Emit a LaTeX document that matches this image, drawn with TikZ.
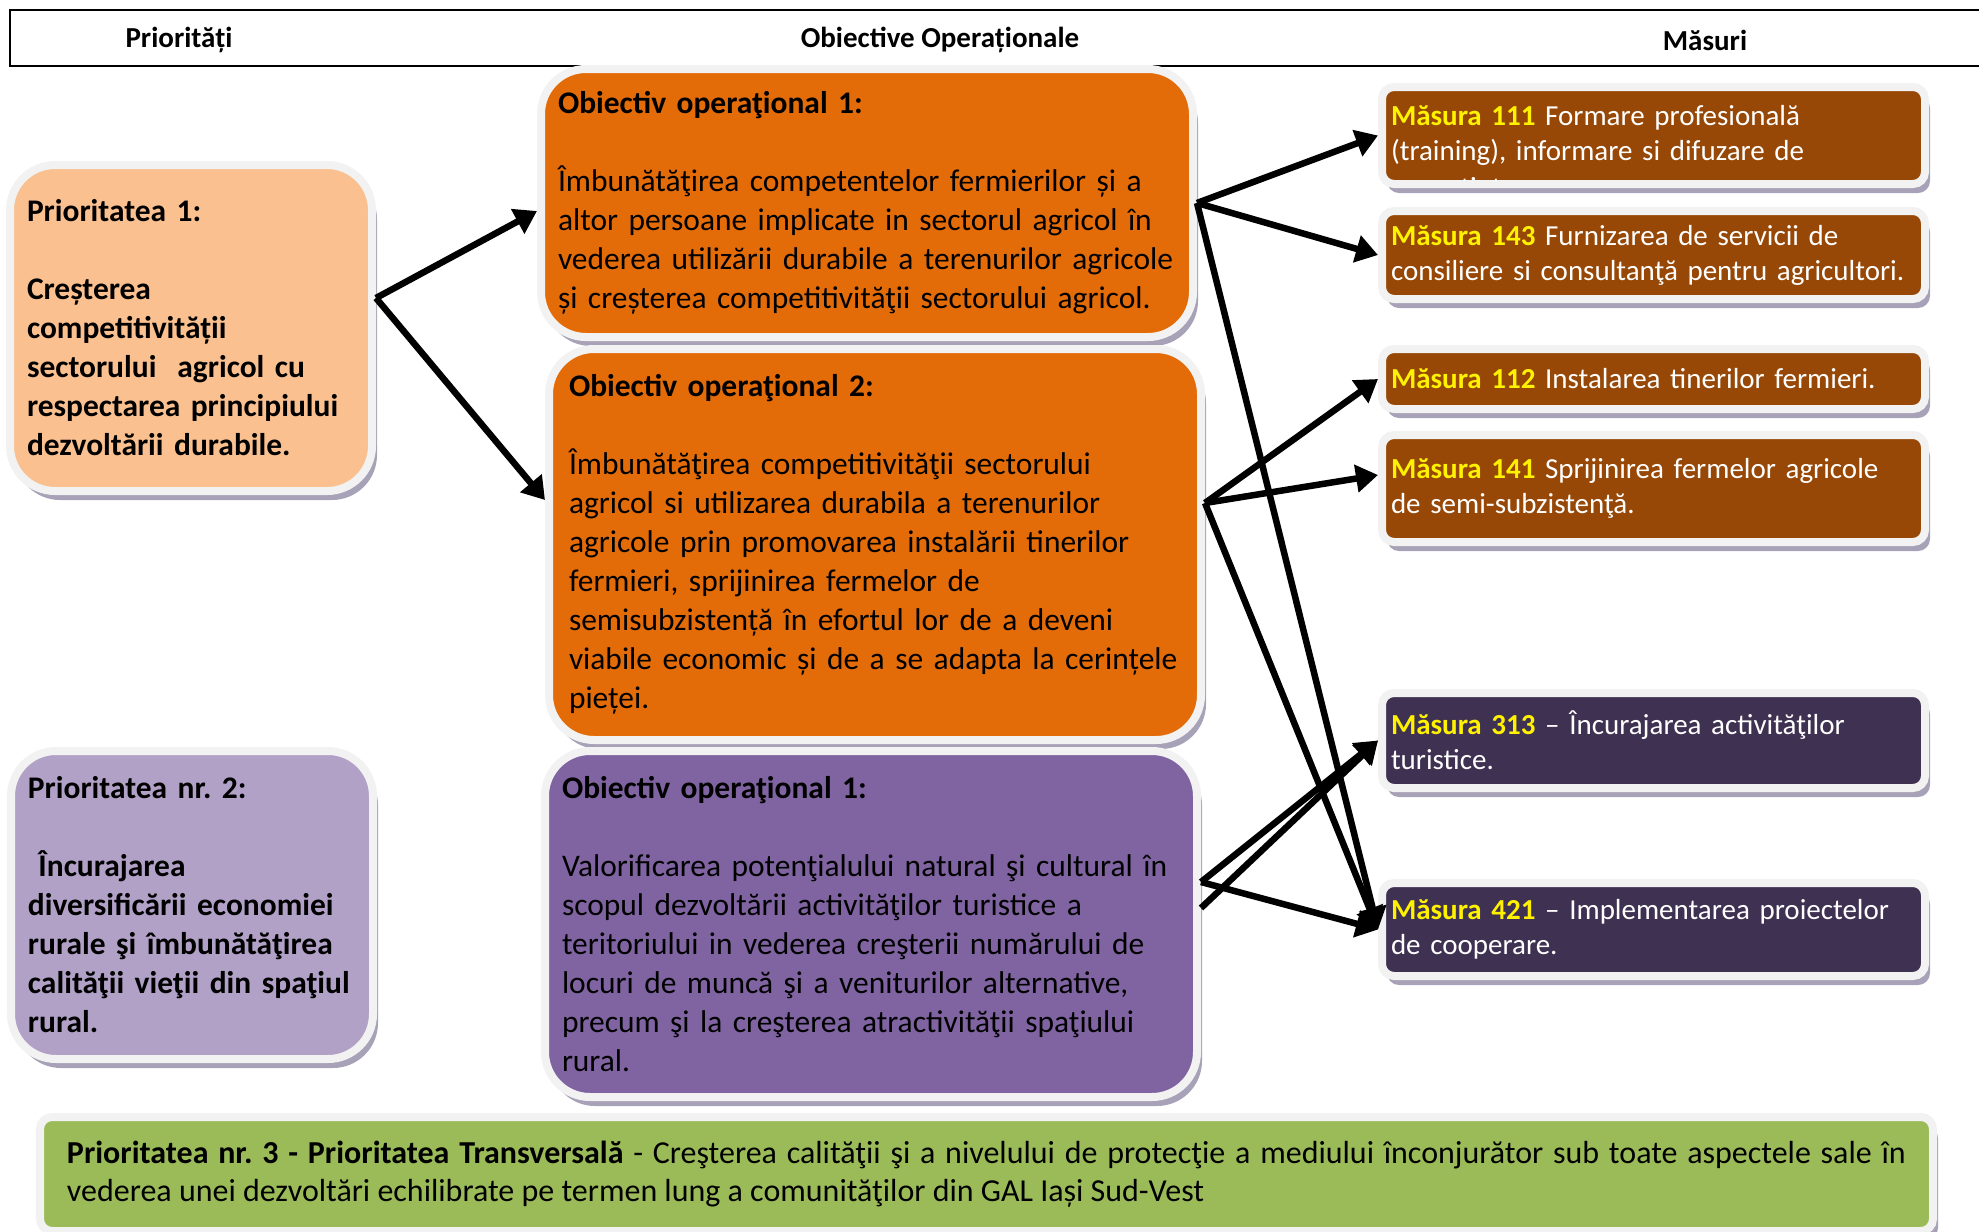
\documentclass[tikz,border=0pt]{standalone}
\usepackage{fontspec}
\setmainfont{Carlito}
\usetikzlibrary{arrows.meta,shadows}
\frenchspacing

\definecolor{peach}{HTML}{FAC08F}
\definecolor{orangeobj}{HTML}{E36C09}
\definecolor{brownmas}{HTML}{974806}
\definecolor{lilac}{HTML}{B2A1C7}
\definecolor{purpleobj}{HTML}{8064A2}
\definecolor{darkmas}{HTML}{3F3151}
\definecolor{greenprio}{HTML}{9BBB59}
\definecolor{rimgray}{HTML}{F2F2F2}
\definecolor{shadowgray}{HTML}{A7A2B7}

\newcommand{\masnr}[1]{{\color{yellow}\bfseries Măsura #1}}

\begin{document}
\begin{tikzpicture}[>={Triangle[length=0.22cm,width=0.27cm]}]
\tikzstyle{panel}=[rectangle,draw=rimgray,line width=0.08cm,inner ysep=0pt,align=left,
  drop shadow={shadow xshift=0.05cm,shadow yshift=-0.09cm,fill=shadowgray,opacity=1}]
\tikzstyle{prio}=[panel,rounded corners=0.45cm,minimum width=3.62cm,inner xsep=0.17cm,text width=3.28cm,
  font=\fontsize{8.95}{11.1}\selectfont\bfseries]
\tikzstyle{obj}=[panel,rounded corners=0.45cm,minimum width=6.52cm,inner xsep=0.17cm,text width=6.18cm,
  font=\fontsize{8.95}{11.1}\selectfont]
\tikzstyle{masura}=[panel,rounded corners=0.12cm,minimum width=5.43cm,inner xsep=0.09cm,text width=5.25cm,
  text=white,font=\fontsize{8.25}{9.96}\selectfont]
\tikzstyle{heading}=[font=\fontsize{8.25}{9.96}\selectfont\bfseries]
\tikzstyle{link}=[->,line width=0.065cm]

\useasboundingbox (0,0) rectangle (19.79,-12.32);

%header row.
\draw[line width=0.025cm] (0.10,-0.10) rectangle (20.20,-0.66);
\node[heading] (prio_head) at (1.79,-0.40) {Priorități};
\node[heading] (obj_head) at (9.40,-0.40) {Obiective Operaționale};
\node[heading] (mas_head) at (17.05,-0.40) {Măsuri};

%priorities.
\node[prio,fill=peach,minimum height=3.26cm] (prio1) at (1.91,-3.28) {Prioritatea 1:\\[\baselineskip]Creșterea\\competitivității\\sectorului\ \ agricol cu\\respectarea principiului\\dezvoltării durabile.};
\node[prio,fill=lilac,minimum height=3.08cm] (prio2) at (1.92,-9.05) {Prioritatea nr. 2:\\[\baselineskip]\ Încurajarea\\diversificării economiei\\rurale şi îmbunătăţirea\\calităţii vieţii din spaţiul\\rural.};

%objectives.
\node[obj,fill=orangeobj,minimum height=2.68cm] (obj1) at (8.67,-2.03) {\textbf{Obiectiv operaţional 1:}\\[\baselineskip]Îmbunătăţirea competentelor fermierilor și a\\altor persoane implicate in sectorul agricol în\\vederea utilizării durabile a terenurilor agricole\\și creșterea competitivităţii sectorului agricol.};
\node[obj,fill=orangeobj,minimum height=3.91cm,inner xsep=0.19cm,text width=6.12cm] (obj2) at (8.75,-5.445) {\textbf{Obiectiv operaţional 2:}\\[\baselineskip]Îmbunătăţirea competitivităţii sectorului\\agricol si utilizarea durabila a terenurilor\\agricole prin promovarea instalării tinerilor\\fermieri, sprijinirea fermelor de\\semisubzistență în efortul lor de a deveni\\viabile economic și de a se adapta la cerințele\\pieței.};
\node[obj,fill=purpleobj,minimum height=3.46cm] (obj3) at (8.71,-9.24) {\textbf{Obiectiv operaţional 1:}\\[\baselineskip]Valorificarea potenţialului natural şi cultural în\\scopul dezvoltării activităţilor turistice a\\teritoriului in vederea creşterii numărului de\\locuri de muncă şi a veniturilor alternative,\\precum şi la creşterea atractivităţii spaţiului\\rural.};

%measures.
\node[masura,fill=brownmas,minimum height=0.97cm] (m111) at (16.535,-1.355) {\masnr{111} Formare profesională\\(training), informare si difuzare de};
\begin{scope}
\clip (13.86,-0.91) rectangle (19.21,-1.80);
\node[anchor=base west,inner sep=0pt,text=white,font=\fontsize{8.25}{9.96}\selectfont] (m111_more) at (13.91,-1.97) {cunoştinţe};
\end{scope}
\node[masura,fill=brownmas,minimum height=0.88cm] (m143) at (16.535,-2.55) {\masnr{143} Furnizarea de servicii de\\consiliere si consultanţă pentru agricultori.};
\node[masura,fill=brownmas,minimum height=0.60cm] (m112) at (16.535,-3.79) {\masnr{112} Instalarea tinerilor fermieri.};
\node[masura,fill=brownmas,minimum height=1.07cm] (m141) at (16.535,-4.885) {\masnr{141} Sprijinirea fermelor agricole\\de semi-subzistenţă.};
\node[masura,fill=darkmas,minimum height=0.95cm] (m313) at (16.535,-7.405) {\masnr{313} -- Încurajarea activităţilor\\turistice.};
\node[masura,fill=darkmas,minimum height=0.93cm] (m421) at (16.535,-9.295) {\masnr{421} -- Implementarea proiectelor\\de cooperare.};

%transversal priority.
\node[panel,fill=greenprio,rounded corners=0.12cm,minimum width=18.93cm,minimum height=1.14cm,
  inner xsep=0.27cm,text width=18.39cm,align=justify,
  font=\fontsize{9.1}{10.8}\selectfont] (prio3) at (9.865,-11.74) {\textbf{Prioritatea nr. 3 - Prioritatea Transversală} - Creşterea calităţii şi a nivelului de protecţie a mediului înconjurător sub toate aspectele sale în vederea unei dezvoltări echilibrate pe termen lung a comunităţilor din GAL Iași Sud-Vest};

%arrows.
\draw[link] ([yshift=0.30cm]prio1.east) -- ([yshift=-0.08cm]obj1.west);
\draw[link] ([yshift=0.30cm]prio1.east) -- ([yshift=0.445cm]obj2.west);
\draw[link] (obj1.east) -- (m111.west);
\draw[link] (obj1.east) -- (m143.west);
\draw[link] (obj1.east) -- (m421.west);
\draw[link] ([yshift=0.415cm]obj2.east) -- (m112.west);
\draw[link] ([yshift=0.415cm]obj2.east) -- ([yshift=0.135cm]m141.west);
\draw[link] ([yshift=0.415cm]obj2.east) -- (m421.west);
\draw[link] ([yshift=0.42cm]obj3.east) -- (m313.west);
\draw[link] ([yshift=0.42cm]obj3.east) -- (m421.west);
\draw[link] ([yshift=0.16cm]obj3.east) -- (m313.west);

\end{tikzpicture}
\end{document}
